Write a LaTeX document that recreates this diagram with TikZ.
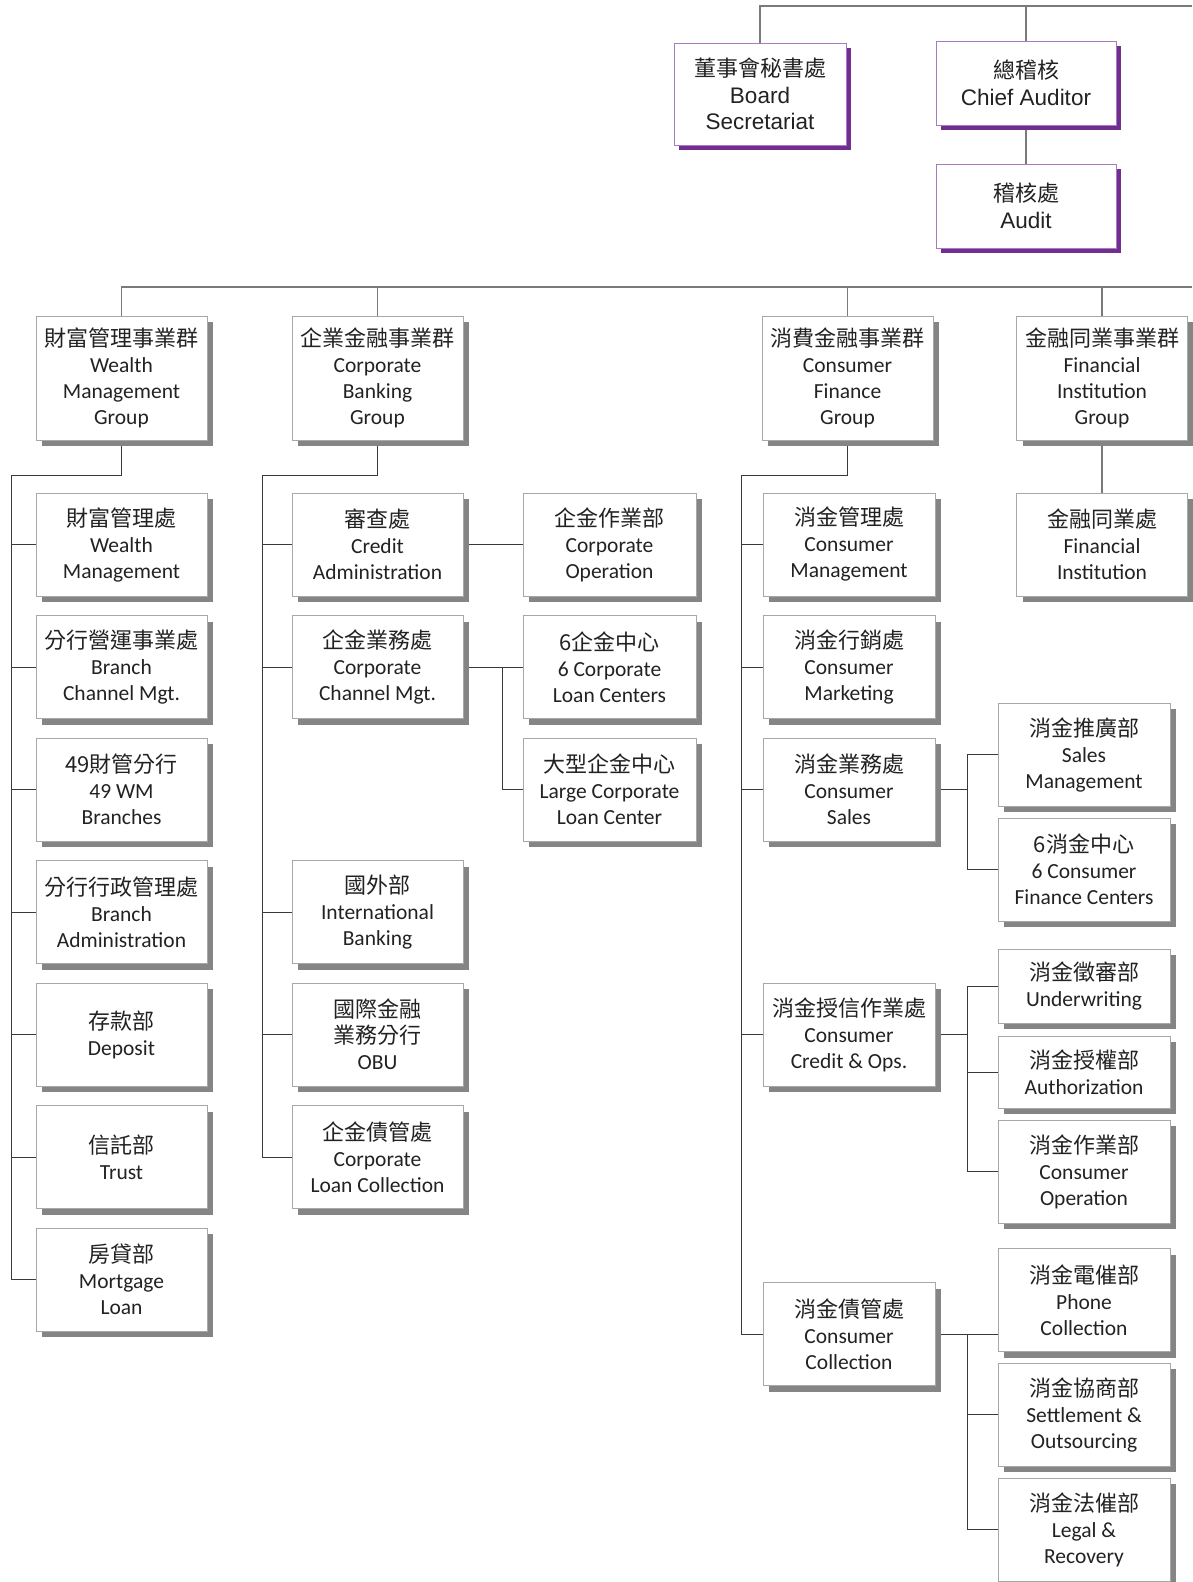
\documentclass[tikz,border=0pt]{standalone}
\usepackage{fontspec}
\setmainfont{Carlito}
\newfontfamily\hei{Noto Sans CJK TC}
\newfontfamily\arialfont{Liberation Sans}
\newcommand{\zh}[1]{{\hei\fontsize{22}{26}\selectfont #1}}
\usetikzlibrary{shadows,backgrounds}
\definecolor{boxline}{HTML}{A8A8A8}
\definecolor{boxshade}{HTML}{858585}
\definecolor{purpline}{HTML}{A77BC4}
\definecolor{purpshade}{HTML}{722E8E}
\definecolor{wire}{HTML}{3A3A3A}
\definecolor{topwire}{HTML}{7A7A7A}
\definecolor{inktext}{HTML}{222222}

\begin{document}
\begin{tikzpicture}[x=1pt,y=-1pt,
  unit/.style={draw=boxline,line width=0.8pt,fill=white,align=center,text=inktext,
    font=\fontsize{21.5}{26}\selectfont,inner sep=0pt,minimum width=171pt,minimum height=103pt,
    drop shadow={shadow xshift=6pt,shadow yshift=-6pt,opacity=1,fill=boxshade}},
  group/.style={unit,minimum height=124pt},
  flat/.style={unit,minimum height=74pt},
  topunit/.style={draw=purpline,line width=0.8pt,fill=white,align=center,text=inktext,
    font=\arialfont\fontsize{22.5}{26.5}\selectfont,inner sep=0pt,minimum width=172pt,minimum height=102pt,
    drop shadow={shadow xshift=5pt,shadow yshift=-5pt,opacity=1,fill=purpshade}},
  link/.style={draw=wire,line width=1pt},
  toplink/.style={draw=topwire,line width=1.2pt}]
\useasboundingbox (0,0) rectangle (1192,1582);

\node[topunit] (board) at (760,94) {\zh{董事會秘書處}\\Board\\Secretariat};
\node[topunit,minimum width=180pt,minimum height=84pt] (chief) at (1026,83) {\zh{總稽核}\\Chief Auditor};
\node[topunit,minimum width=180pt,minimum height=84pt] (audit) at (1026,206) {\zh{稽核處}\\Audit};

\node[group] (wmg) at (121.5,378) {\zh{財富管理事業群}\\Wealth\\Management\\Group};
\node[group] (cbg) at (377.5,378) {\zh{企業金融事業群}\\Corporate\\Banking\\Group};
\node[group] (cfg) at (847.5,378) {\zh{消費金融事業群}\\Consumer\\Finance\\Group};
\node[group] (fig) at (1102,378) {\zh{金融同業事業群}\\Financial\\Institution\\Group};

\node[unit] (a1) at (121.5,544.5) {\zh{財富管理處}\\Wealth\\Management};
\node[unit] (a2) at (121.5,667) {\zh{分行營運事業處}\\Branch\\Channel Mgt.};
\node[unit] (a3) at (121.5,789.5) {\zh{49財管分行}\\49 WM\\Branches};
\node[unit] (a4) at (121.5,912) {\zh{分行行政管理處}\\Branch\\Administration};
\node[unit] (a5) at (121.5,1034.5) {\zh{存款部}\\Deposit};
\node[unit] (a6) at (121.5,1157) {\zh{信託部}\\Trust};
\node[unit] (a7) at (121.5,1279.5) {\zh{房貸部}\\Mortgage\\Loan};

\node[unit] (b1) at (377.5,544.5) {\zh{審查處}\\Credit\\Administration};
\node[unit] (b2) at (377.5,667) {\zh{企金業務處}\\Corporate\\Channel Mgt.};
\node[unit] (b4) at (377.5,912) {\zh{國外部}\\International\\Banking};
\node[unit] (b5) at (377.5,1034.5) {\zh{國際金融}\\\zh{業務分行}\\OBU};
\node[unit] (b6) at (377.5,1157) {\zh{企金債管處}\\Corporate\\Loan Collection};

\node[unit,minimum width=173pt] (c1) at (609.5,544.5) {\zh{企金作業部}\\Corporate\\Operation};
\node[unit,minimum width=173pt] (c2) at (609.5,667) {\zh{6企金中心}\\6 Corporate\\Loan Centers};
\node[unit,minimum width=173pt] (c3) at (609.5,789.5) {\zh{大型企金中心}\\Large Corporate\\Loan Center};

\node[unit,minimum width=172pt] (d1) at (849,544.5) {\zh{消金管理處}\\Consumer\\Management};
\node[unit,minimum width=172pt] (d2) at (849,667) {\zh{消金行銷處}\\Consumer\\Marketing};
\node[unit,minimum width=172pt] (d3) at (849,789.5) {\zh{消金業務處}\\Consumer\\Sales};
\node[unit,minimum width=172pt] (d5) at (849,1034.5) {\zh{消金授信作業處}\\Consumer\\Credit \& Ops.};
\node[unit,minimum width=172pt] (d6) at (849,1334) {\zh{消金債管處}\\Consumer\\Collection};

\node[unit] (fi) at (1102,544.5) {\zh{金融同業處}\\Financial\\Institution};

\node[unit,minimum width=172pt] (e1) at (1084,754.5) {\zh{消金推廣部}\\Sales\\Management};
\node[unit,minimum width=172pt] (e2) at (1084,869.5) {\zh{6消金中心}\\6 Consumer\\Finance Centers};
\node[flat,minimum width=172pt] (e3) at (1084,986) {\zh{消金徵審部}\\Underwriting};
\node[flat,minimum width=172pt,minimum height=72pt] (e4) at (1084,1072) {\zh{消金授權部}\\Authorization};
\node[unit,minimum width=172pt] (e5) at (1084,1171.5) {\zh{消金作業部}\\Consumer\\Operation};
\node[unit,minimum width=172pt] (e6) at (1084,1300) {\zh{消金電催部}\\Phone\\Collection};
\node[unit,minimum width=172pt] (e7) at (1084,1414.5) {\zh{消金協商部}\\Settlement \&\\Outsourcing};
\node[unit,minimum width=172pt] (e8) at (1084,1529.5) {\zh{消金法催部}\\Legal \&\\Recovery};

\coordinate (topend) at (1192,6);
\coordinate (midend) at (1192,287);
\coordinate (spA) at (11,475);
\coordinate (spB) at (262,475);
\coordinate (spD) at (741,475);
\coordinate (spC) at (502,0);
\coordinate (spE) at (967,0);

\begin{scope}[on background layer]
\draw[toplink] (board.north) |- (topend);
\draw[toplink] (chief.north) -- (chief.north |- topend);
\draw[toplink] (chief.south) -- (audit.north);
\draw[toplink] (wmg.north) |- (midend);
\draw[toplink] (cbg.north) -- (cbg.north |- midend);
\draw[toplink] (cfg.north) -- (cfg.north |- midend);
\draw[toplink] (fig.north) -- (fig.north |- midend);

\draw[link] (wmg.south) |- (spA) |- (a7.west);
\foreach \n in {a1,a2,a3,a4,a5,a6}
  \draw[link] (spA |- \n.west) -- (\n.west);
\draw[link] (cbg.south) |- (spB) |- (b6.west);
\foreach \n in {b1,b2,b4,b5}
  \draw[link] (spB |- \n.west) -- (\n.west);
\draw[link] (b1.east) -- (c1.west);
\draw[link] (b2.east) -- (c2.west);
\draw[link] (spC |- c2.west) |- (c3.west);

\draw[link] (cfg.south) |- (spD) |- (d6.west);
\foreach \n in {d1,d2,d3,d5}
  \draw[link] (spD |- \n.west) -- (\n.west);
\draw[toplink] (fig.south) -- (fi.north);

\draw[link] (d3.east) -- (spE |- d3.east);
\draw[link] (e1.west) -- (spE |- e1.west) -- (spE |- e2.west) -- (e2.west);
\draw[link] (d5.east) -- (spE |- d5.east);
\draw[link] (e3.west) -- (spE |- e3.west) -- (spE |- e5.west) -- (e5.west);
\draw[link] (spE |- e4.west) -- (e4.west);
\draw[link] (d6.east) -- (e6.west |- d6.east);
\draw[link] (spE |- d6.east) -- (spE |- e8.west) -- (e8.west);
\draw[link] (spE |- e7.west) -- (e7.west);
\end{scope}
\end{tikzpicture}
\end{document}
